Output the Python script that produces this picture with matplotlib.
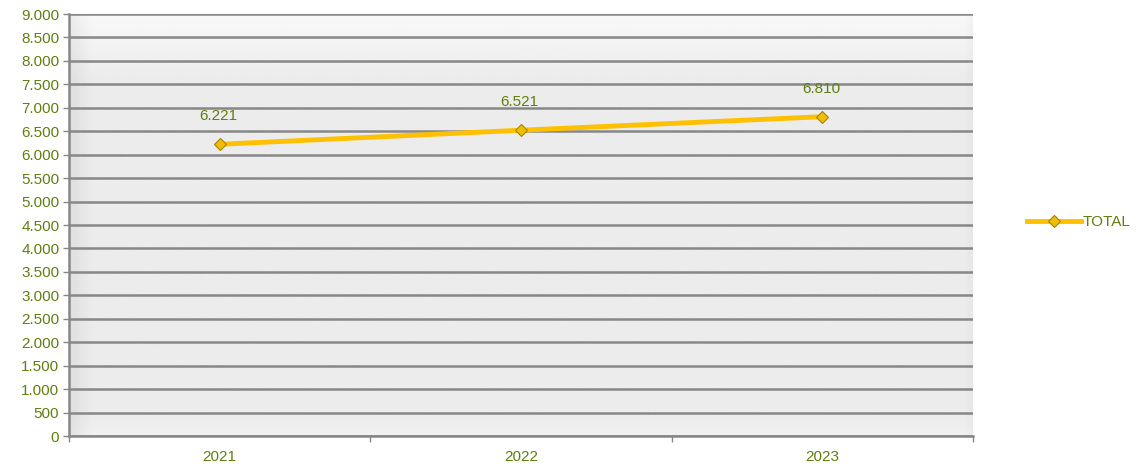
import numpy as np
import matplotlib.pyplot as plt
from matplotlib.colors import LinearSegmentedColormap

# === DATA ===
years = ["2021", "2022", "2023"]
total = [6221, 6521, 6810]
y_ticks = list(range(0, 9001, 500))

# === STYLE ===
plt.rcParams['font.family'] = ['Liberation Sans', 'DejaVu Sans']
TEXT_COLOR = "#5f7f0f"
LINE_COLOR = "#ffc000"
GRID_COLOR = "#878787"
FS = 11


def fmt_thousands(v):
    return f"{int(v):,}".replace(",", ".")


fig = plt.figure(figsize=(11.37, 4.65), dpi=100)
ax = fig.add_axes([69 / 1137, 29 / 465, 904 / 1137, 422 / 465])

# bevelled grey background
h, w = 200, 400
yy, xx = np.mgrid[0:1:h * 1j, 0:1:w * 1j]
bg = np.full((h, w), 0.925)
bg -= 0.05 * np.clip(1 - xx / 0.025, 0, 1)         # darker left edge
bg -= 0.02 * np.clip(1 - (1 - xx) / 0.008, 0, 1)   # slight right edge
bg += 0.05 * np.clip(1 - yy / 0.15, 0, 1)          # lighter top band
bg += 0.02 * np.clip(1 - (1 - yy) / 0.04, 0, 1)    # bottom bevel
grey = LinearSegmentedColormap.from_list("g", ["black", "white"])
ax.imshow(bg, cmap=grey, vmin=0, vmax=1, aspect="auto",
          extent=(0, 1, 0, 1), transform=ax.transAxes, zorder=0)

x = np.arange(len(years))
ax.plot(x, total, color=LINE_COLOR, lw=3.5, zorder=3, label="TOTAL",
        marker="D", markersize=6.5, markerfacecolor="#f0be00",
        markeredgecolor="#a88300", markeredgewidth=0.8)

for xi, v in zip(x, total):
    ax.annotate(fmt_thousands(v), (xi, v), xytext=(-1, 15),
                textcoords="offset points", ha="center", va="bottom",
                color=TEXT_COLOR, fontsize=FS)

ax.set_xlim(-0.5, len(years) - 0.5)
ax.set_ylim(0, 9000)
ax.set_yticks(y_ticks)
ax.set_yticklabels([fmt_thousands(v) for v in y_ticks])
ax.set_xticks(x)
ax.set_xticklabels(years)
ax.set_xticks(np.arange(-0.5, len(years)), minor=True)
ax.tick_params(axis="x", which="major", length=0, pad=10,
               labelcolor=TEXT_COLOR, labelsize=FS)
ax.tick_params(axis="x", which="minor", length=4, color=GRID_COLOR, width=1)
ax.tick_params(axis="y", length=4, color=GRID_COLOR, width=1,
               labelcolor=TEXT_COLOR, labelsize=FS, pad=3)

ax.yaxis.grid(True, color=GRID_COLOR, lw=1.8, zorder=1)
ax.set_axisbelow(True)
for side in ["top", "right"]:
    ax.spines[side].set_visible(False)
for side in ["left", "bottom"]:
    ax.spines[side].set_color(GRID_COLOR)
    ax.spines[side].set_linewidth(1.8)

leg = ax.legend(loc="center left", bbox_to_anchor=(1.045, 0.507), frameon=False,
                handlelength=3.5, handletextpad=0.1, fontsize=FS)
for t in leg.get_texts():
    t.set_color(TEXT_COLOR)

fig.savefig("out.png", dpi=100)
